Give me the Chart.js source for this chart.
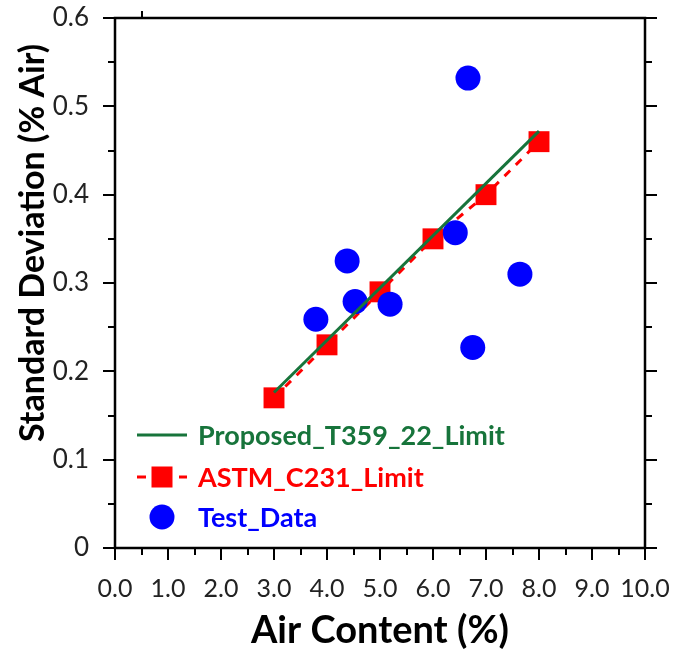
<!DOCTYPE html>
<html>
<head>
<meta charset="utf-8">
<script src="https://cdn.jsdelivr.net/npm/chart.js@4"></script>
<style>
html,body{margin:0;padding:0;background:#fff;}
#wrap{width:675px;height:654px;}
</style>
</head>
<body>
<div id="wrap"><canvas id="c" width="675" height="654"></canvas></div>
<script>
// ---- data ----
const proposedX = [3, 8];
const proposedY = [0.176, 0.472];
const astmX = [3, 4, 5, 6, 7, 8];
const astmY = [0.17, 0.23, 0.29, 0.35, 0.40, 0.46];
const testX = [3.79, 4.38, 4.53, 5.19, 6.42, 6.66, 6.75, 7.64];
const testY = [0.259, 0.325, 0.279, 0.276, 0.357, 0.532, 0.227, 0.310];
const seriesNames = ['Proposed_T359_22_Limit', 'ASTM_C231_Limit', 'Test_Data'];
const xTickLabels = ['0.0','1.0','2.0','3.0','4.0','5.0','6.0','7.0','8.0','9.0','10.0'];
const yTickLabels = ['0','0.1','0.2','0.3','0.4','0.5','0.6'];
const xTitle = 'Air Content (%)';
const yTitle = 'Standard Deviation (% Air)';

const GREEN = '#17743b', RED = '#ff0000', BLUE = '#0000ff';
const pts = (xs, ys) => xs.map((x, i) => ({x: x, y: ys[i]}));

const framePlugin = {
  id: 'frame',
  afterDraw(chart) {
    const ctx = chart.ctx, a = chart.chartArea;
    const xs = chart.scales.x, ys = chart.scales.y;
    ctx.save();
    ctx.strokeStyle = '#000';
    ctx.lineWidth = 2.5;
    ctx.lineCap = 'butt';
    ctx.beginPath();
    ctx.rect(a.left, a.top, a.right - a.left, a.bottom - a.top);
    ctx.stroke();
    ctx.lineWidth = 2;
    ctx.beginPath();
    for (let i = 0; i <= 12; i++) {
      const v = i * 0.05;
      const p = Math.round(ys.getPixelForValue(v));
      const len = (i % 2 === 0) ? 12 : 7;
      ctx.moveTo(a.left, p); ctx.lineTo(a.left - len, p);
      ctx.moveTo(a.right, p); ctx.lineTo(a.right + len, p);
    }
    for (let i = 0; i <= 20; i++) {
      const v = i * 0.5;
      const p = Math.round(xs.getPixelForValue(v));
      const len = (i % 2 === 0) ? 12 : 7;
      ctx.moveTo(p, a.bottom); ctx.lineTo(p, a.bottom + len);
    }
    const pt = Math.round(xs.getPixelForValue(0.5));
    ctx.moveTo(pt, a.top); ctx.lineTo(pt, a.top - 7);
    ctx.stroke();
    // y axis title
    ctx.translate(33, (a.top + a.bottom) / 2 - 40);
    ctx.rotate(-Math.PI / 2);
    ctx.font = 'bold 34px Lato';
    ctx.fillStyle = '#000';
    ctx.textAlign = 'center';
    ctx.textBaseline = 'middle';
    ctx.fillText(yTitle, 0, 0);
    ctx.restore();
  }
};

const legendPlugin = {
  id: 'inlegend',
  afterDatasetsDraw(chart) {
    const ctx = chart.ctx, a = chart.chartArea;
    const ds = chart.data.datasets;
    const mx0 = a.left + 22, mx1 = a.left + 72, tx = a.left + 83;
    const rows = [a.bottom - 113, a.bottom - 71, a.bottom - 31];
    ctx.save();
    ctx.strokeStyle = ds[0].borderColor; ctx.lineWidth = 3;
    ctx.beginPath(); ctx.moveTo(mx0, rows[0]); ctx.lineTo(mx1, rows[0]); ctx.stroke();
    ctx.strokeStyle = ds[1].borderColor;
    ctx.beginPath();
    ctx.moveTo(mx0, rows[1]); ctx.lineTo(mx0 + 9, rows[1]);
    ctx.moveTo(mx1 - 8, rows[1]); ctx.lineTo(mx1, rows[1]);
    ctx.stroke();
    ctx.fillStyle = ds[1].backgroundColor;
    ctx.fillRect(mx0 + 14.5, rows[1] - 10.5, 21, 21);
    ctx.fillStyle = ds[2].backgroundColor;
    ctx.beginPath(); ctx.arc(mx0 + 25, rows[2], 12.5, 0, Math.PI * 2); ctx.fill();
    ctx.font = 'bold 27px Lato';
    ctx.textBaseline = 'middle';
    ctx.textAlign = 'left';
    const cols = [GREEN, RED, BLUE];
    for (let i = 0; i < 3; i++) {
      ctx.fillStyle = cols[i];
      ctx.fillText(ds[i].label, tx, rows[i] + 1);
    }
    ctx.restore();
  }
};

new Chart(document.getElementById('c'), {
  type: 'scatter',
  data: {
    datasets: [
      {
        label: seriesNames[0],
        data: pts(proposedX, proposedY),
        showLine: true,
        borderColor: GREEN,
        backgroundColor: GREEN,
        borderWidth: 3,
        pointRadius: 0,
        order: 0
      },
      {
        label: seriesNames[1],
        data: pts(astmX, astmY),
        showLine: true,
        borderColor: RED,
        backgroundColor: RED,
        borderWidth: 3,
        borderDash: [8, 8],
        pointStyle: 'rect',
        pointRadius: 14.8,
        pointBorderWidth: 0,
        pointBackgroundColor: RED,
        order: 2
      },
      {
        label: seriesNames[2],
        data: pts(testX, testY),
        showLine: false,
        borderColor: BLUE,
        backgroundColor: BLUE,
        pointStyle: 'circle',
        pointRadius: 12.5,
        pointBorderWidth: 0,
        order: 1
      }
    ]
  },
  options: {
    responsive: false,
    animation: false,
    devicePixelRatio: 1,
    layout: { padding: { top: 18, right: 30, left: 0, bottom: 0 } },
    plugins: {
      legend: { display: false },
      tooltip: { enabled: false }
    },
    scales: {
      x: {
        type: 'linear',
        min: 0, max: 10,
        afterFit(s) { s.height = 106; s.paddingLeft = 0; s.paddingRight = 0; },
        afterBuildTicks(s) { s.ticks = xTickLabels.map(t => ({value: parseFloat(t)})); },
        ticks: {
          callback: (v, i) => xTickLabels[i],
          font: { family: 'Lato', size: 25 },
          color: '#222',
          padding: 26,
          maxRotation: 0,
          autoSkip: false
        },
        grid: { display: false, drawTicks: false },
        border: { display: false },
        title: {
          display: true,
          text: xTitle,
          font: { family: 'Lato', size: 38, weight: 'bold' },
          color: '#000',
          padding: { top: 0, bottom: 0 }
        }
      },
      y: {
        type: 'linear',
        min: 0, max: 0.6,
        afterFit(s) { s.width = 115; s.paddingTop = 0; s.paddingBottom = 0; },
        afterBuildTicks(s) { s.ticks = yTickLabels.map(t => ({value: parseFloat(t)})); },
        ticks: {
          callback: (v, i) => yTickLabels[i],
          font: { family: 'Lato', size: 26 },
          color: '#222',
          padding: 26,
          autoSkip: false
        },
        grid: { display: false, drawTicks: false },
        border: { display: false },
        title: { display: false }
      }
    }
  },
  plugins: [framePlugin, legendPlugin]
});
</script>
</body>
</html>
